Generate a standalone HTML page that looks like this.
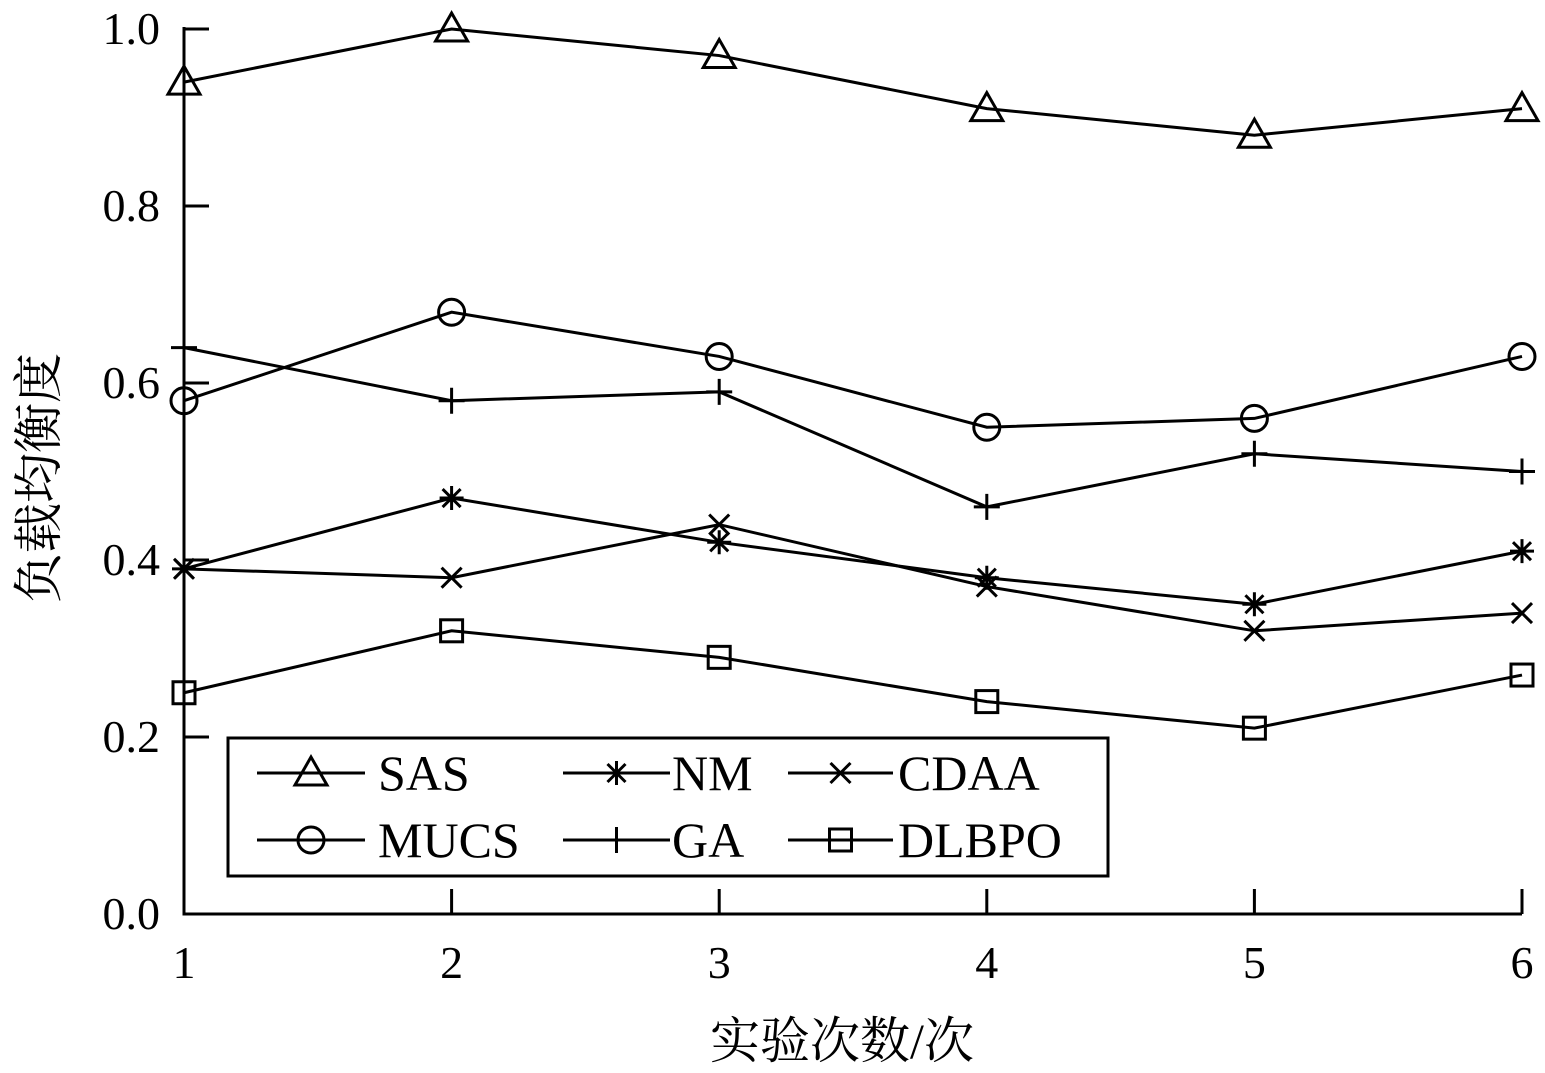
<!DOCTYPE html>
<html><head><meta charset="utf-8"><style>
html,body{margin:0;padding:0;background:#fff;}
svg{display:block;font-family:"Liberation Serif","Noto Serif CJK SC",serif;}
</style></head><body>
<svg id="chart" width="1545" height="1073" viewBox="0 0 1545 1073" xmlns="http://www.w3.org/2000/svg"></svg>
<script>
const categories = [1, 2, 3, 4, 5, 6];
const yTicks = [0.0, 0.2, 0.4, 0.6, 0.8, 1.0];
const yTickLabels = ["0.0", "0.2", "0.4", "0.6", "0.8", "1.0"];
const seriesNames = ["SAS", "NM", "CDAA", "MUCS", "GA", "DLBPO"];
const sasValues = [0.94, 1.0, 0.97, 0.91, 0.88, 0.91];
const nmValues = [0.39, 0.47, 0.42, 0.38, 0.35, 0.41];
const cdaaValues = [0.39, 0.38, 0.44, 0.37, 0.32, 0.34];
const mucsValues = [0.58, 0.68, 0.63, 0.55, 0.56, 0.63];
const gaValues = [0.64, 0.58, 0.59, 0.46, 0.52, 0.50];
const dlbpoValues = [0.25, 0.32, 0.29, 0.24, 0.21, 0.27];

const NS = "http://www.w3.org/2000/svg";
const svg = document.getElementById("chart");
const X0 = 184, X1 = 1522, Y0 = 914, Y1 = 29;
function xs(v){ return X0 + (v - 1) / 5 * (X1 - X0); }
function ys(v){ return Y0 - v * (Y0 - Y1); }
function mk(tag, attrs, parent){
  const e = document.createElementNS(NS, tag);
  for (const k in attrs) e.setAttribute(k, attrs[k]);
  (parent || svg).appendChild(e);
  return e;
}
const S = {stroke:"#000","stroke-width":3,fill:"none"};
function marker(type, x, y, g){
  let e;
  if (type === "tri") e = mk("polygon", Object.assign({points:`${x},${y-16} ${x-16},${y+12} ${x+16},${y+12}`}, S), g);
  else if (type === "circ") e = mk("circle", Object.assign({cx:x, cy:y, r:13}, S), g);
  else if (type === "sq") e = mk("rect", Object.assign({x:x-11, y:y-11, width:22, height:22}, S), g);
  else if (type === "plus") e = mk("path", Object.assign({d:`M${x-13},${y}H${x+13}M${x},${y-13}V${y+13}`}, S), g);
  else if (type === "x") e = mk("path", Object.assign({d:`M${x-10},${y-10}L${x+10},${y+10}M${x+10},${y-10}L${x-10},${y+10}`}, S), g);
  else if (type === "star") e = mk("path", Object.assign({d:`M${x-12},${y}H${x+12}M${x},${y-12}V${y+12}M${x-9},${y-9}L${x+9},${y+9}M${x+9},${y-9}L${x-9},${y+9}`}, S), g);
  
  
}

// axes
const ax = mk("path", Object.assign({d:`M${X0},${Y1-2}V${Y0}H${X1}`}, S));


yTicks.forEach((t, i) => {
  const y = ys(t);
  const tk = mk("line", {x1:X0, x2:X0+25, y1:y, y2:y, stroke:"#000", "stroke-width":3});
  
  
  const lb = mk("text", {x:160, y:y+15, "font-size":46, "text-anchor":"end"});
  lb.textContent = yTickLabels[i];
  
  
});
categories.forEach(c => {
  const x = xs(c);
  const tk = mk("line", {x1:x, x2:x, y1:Y0, y2:Y0-25, stroke:"#000", "stroke-width":3});
  
  
  const lb = mk("text", {x:x, y:978, "font-size":46, "text-anchor":"middle"});
  lb.textContent = String(c);
  
  
});
const xt = mk("text", {x:842, y:1058, "font-size":50, "text-anchor":"middle"});
xt.textContent = "实验次数/次";


const yt = mk("text", {x:0, y:0, "font-size":50, "text-anchor":"middle", transform:"translate(56,478) rotate(-90)"});
yt.textContent = "负载均衡度";



const series = [
  [sasValues, "tri"], [nmValues, "star"], [cdaaValues, "x"],
  [mucsValues, "circ"], [gaValues, "plus"], [dlbpoValues, "sq"]
];
series.forEach(([vals, m], si) => {
  const g = mk("g", {});
  
  
  const pts = vals.map((v, i) => `${xs(categories[i])},${ys(v)}`).join(" ");
  const pl = mk("polyline", Object.assign({points:pts}, S), g);
  
  
  vals.forEach((v, i) => marker(m, xs(categories[i]), ys(v), g));
});

// legend
const lg = mk("g", {});


const lbox = mk("rect", {x:228, y:738, width:880, height:138, fill:"#fff", stroke:"#000", "stroke-width":3}, lg);


const cols = [[257, 365, 378], [563, 670, 672], [788, 893, 898]];
const rows = [773, 840];
series.forEach(([vals, m], si) => {
  const c = cols[si % 3], r = rows[Math.floor(si / 3)];
  const ge = mk("g", {}, lg);
  
  
  mk("line", {x1:c[0], x2:c[1], y1:r, y2:r, stroke:"#000", "stroke-width":3}, ge);
  marker(m, (c[0] + c[1]) / 2, r, ge);
  const t = mk("text", {x:c[2], y:r + 17, "font-size":50}, ge);
  t.textContent = seriesNames[si];
  
  
});
</script>
</body></html>
